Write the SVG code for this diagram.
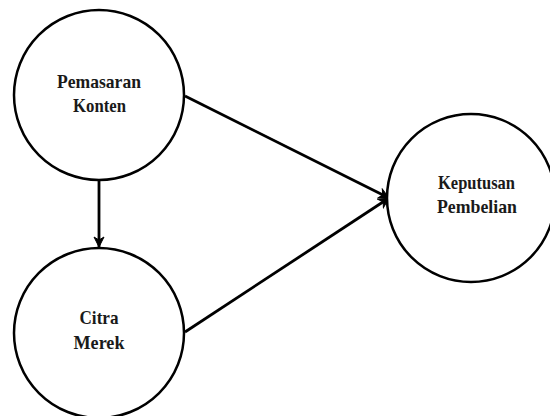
<svg xmlns="http://www.w3.org/2000/svg" width="550" height="416" viewBox="0 0 550 416">
  <style>
    .node circle { fill: #fff; stroke: #000; stroke-width: 2.5; }
    .node text { font-family: "Liberation Serif", "DejaVu Serif", "Times New Roman", serif; font-weight: bold; font-size: 19px; fill: #1a1a1a; text-anchor: middle; }
    .edges line { stroke: #000; stroke-width: 2.8; fill: none; }
  </style>
  <defs>
    <marker id="arr" viewBox="0 0 12 12" refX="11" refY="6" markerWidth="12" markerHeight="12" orient="auto" markerUnits="userSpaceOnUse">
      <path d="M1,1 L11,6 L1,11 L4,6 Z" fill="#000" stroke="#000" stroke-width="1" stroke-linejoin="miter"/>
    </marker>
  </defs>
  <rect width="550" height="416" fill="#fff"/>
  <g class="edges">
    <line x1="99" y1="181" x2="99" y2="247" marker-end="url(#arr)"/>
    <line x1="185" y1="96" x2="389" y2="198" marker-end="url(#arr)"/>
    <line x1="185" y1="332" x2="389" y2="198" marker-end="url(#arr)"/>
  </g>
  <g id="pemasaran" class="node">
    <circle cx="99" cy="95" r="85"/>
    <text x="99" y="88" textLength="84" lengthAdjust="spacingAndGlyphs">Pemasaran</text>
    <text x="99.5" y="112" textLength="53" lengthAdjust="spacingAndGlyphs">Konten</text>
  </g>
  <g id="citra" class="node">
    <circle cx="99" cy="333" r="85"/>
    <text x="99" y="324" textLength="39" lengthAdjust="spacingAndGlyphs">Citra</text>
    <text x="99" y="349" textLength="51" lengthAdjust="spacingAndGlyphs">Merek</text>
  </g>
  <g id="keputusan" class="node">
    <circle cx="471" cy="198" r="84"/>
    <text x="476.5" y="189" textLength="77" lengthAdjust="spacingAndGlyphs">Keputusan</text>
    <text x="477" y="213" textLength="80" lengthAdjust="spacingAndGlyphs">Pembelian</text>
  </g>
</svg>
